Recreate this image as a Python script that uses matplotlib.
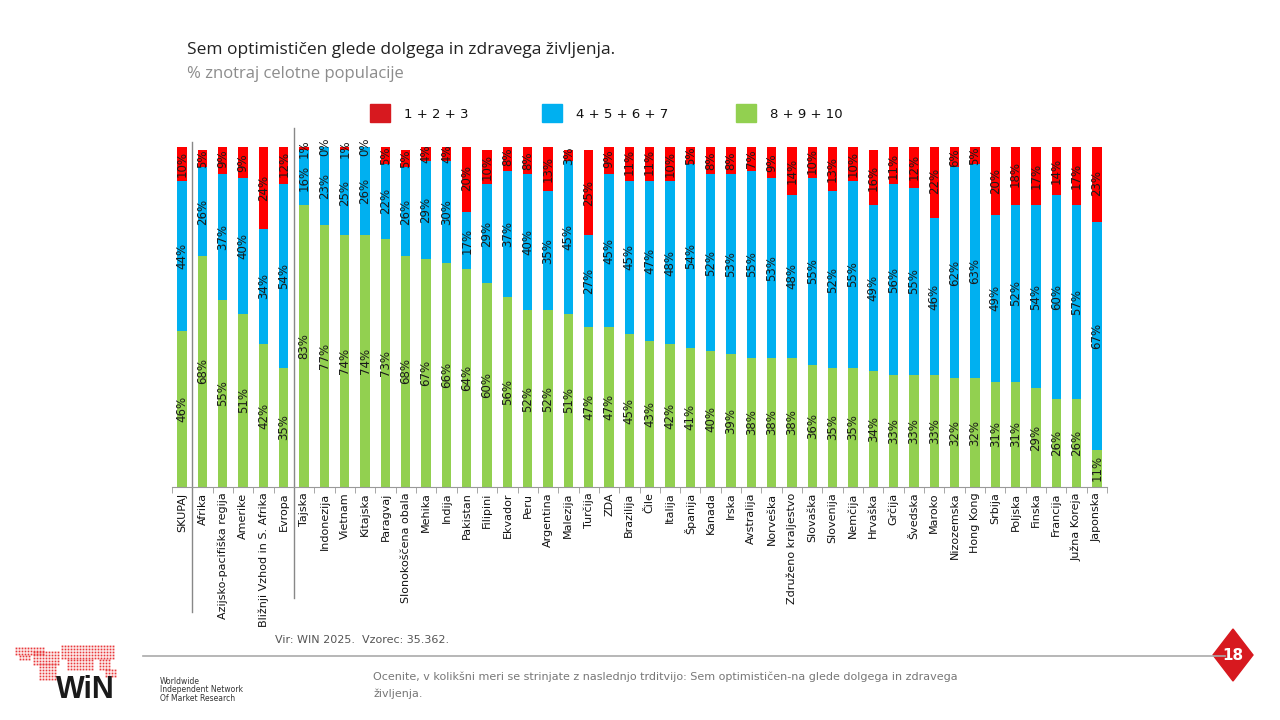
import numpy as np
import matplotlib.pyplot as plt
from matplotlib.patches import Rectangle, Polygon
from matplotlib.lines import Line2D

categories = ["SKUPAJ", "Afrika", "Azijsko-pacifiška regija", "Amerike",
              "Bližnji Vzhod in S. Afrika", "Evropa", "Tajska", "Indonezija",
              "Vietnam", "Kitajska", "Paragvaj", "Slonokoščena obala", "Mehika",
              "Indija", "Pakistan", "Filipini", "Ekvador", "Peru", "Argentina",
              "Malezija", "Turčija", "ZDA", "Brazilija", "Čile", "Italija",
              "Španija", "Kanada", "Irska", "Avstralija", "Norveška",
              "Združeno kraljestvo", "Slovaška", "Slovenija", "Nemčija",
              "Hrvaška", "Grčija", "Švedska", "Maroko", "Nizozemska",
              "Hong Kong", "Srbija", "Poljska", "Finska", "Francija",
              "Južna Koreja", "Japonska"]

high = [46, 68, 55, 51, 42, 35, 83, 77, 74, 74, 73, 68, 67, 66, 64, 60, 56, 52,
        52, 51, 47, 47, 45, 43, 42, 41, 40, 39, 38, 38, 38, 36, 35, 35, 34, 33,
        33, 33, 32, 32, 31, 31, 29, 26, 26, 11]
mid = [44, 26, 37, 40, 34, 54, 16, 23, 25, 26, 22, 26, 29, 30, 17, 29, 37, 40,
       35, 45, 27, 45, 45, 47, 48, 54, 52, 53, 55, 53, 48, 55, 52, 55, 49, 56,
       55, 46, 62, 63, 49, 52, 54, 60, 57, 67]
low = [10, 5, 9, 9, 24, 12, 1, 0, 1, 0, 5, 5, 4, 4, 20, 10, 8, 8, 13, 3, 25, 9,
       11, 11, 10, 5, 8, 8, 7, 9, 14, 10, 13, 10, 16, 11, 12, 22, 6, 5, 20, 18,
       17, 14, 17, 23]

series_names = ["1 + 2 + 3", "4 + 5 + 6 + 7", "8 + 9 + 10"]
c_red, c_blue, c_green = "#FF0000", "#00B0F0", "#92D050"

fig = plt.figure(figsize=(12.8, 7.2), dpi=100)
fig.patch.set_facecolor("white")
ax = fig.add_axes([172 / 1280, 1 - 487 / 720, 935 / 1280, 340 / 720])

x = np.arange(len(categories))
w = 0.46
hi = np.array(high)
md = np.array(mid)
lo = np.array(low)
ax.bar(x, hi, w, color=c_green)
ax.bar(x, md, w, bottom=hi, color=c_blue)
ax.bar(x, lo, w, bottom=hi + md, color=c_red)

for i in x:
    ax.text(i, hi[i] / 2, f"{hi[i]}%", rotation=90, ha="center", va="center",
            fontsize=8.5, color="#1a1a1a")
    ax.text(i, hi[i] + md[i] / 2, f"{md[i]}%", rotation=90, ha="center",
            va="center", fontsize=8.5, color="#1a1a1a")
    ax.text(i, hi[i] + md[i] + lo[i] / 2, f"{lo[i]}%", rotation=90,
            ha="center", va="center", fontsize=8.5, color="#1a1a1a")

ax.set_xlim(-0.5, len(categories) - 0.5)
ax.set_ylim(0, 100)
ax.set_yticks([])
for s in ["top", "right", "left"]:
    ax.spines[s].set_visible(False)
ax.spines["bottom"].set_color("#999999")
ax.set_xticks(x)
ax.set_xticklabels(categories, rotation=90, fontsize=8, color="#111111")
ax.tick_params(axis="x", length=0, pad=4)
ax.set_xticks(np.arange(-0.5, len(categories)), minor=True)
ax.tick_params(axis="x", which="minor", length=4, color="#999999")

# group separators
trans = ax.get_xaxis_transform()
ax.add_line(Line2D([0.5, 0.5], [1.015, -0.368], transform=trans,
                   color="#888888", lw=1, clip_on=False))
ax.add_line(Line2D([5.5, 5.5], [1.056, -0.326], transform=trans,
                   color="#888888", lw=1, clip_on=False))

# title
fig.text(187 / 1280, 1 - 50 / 720, "Sem optimističen glede dolgega in zdravega življenja.",
         fontsize=12.5, color="#222222", va="center", family="Open Sans")
fig.text(187 / 1280, 1 - 74 / 720, "% znotraj celotne populacije",
         fontsize=12, color="#8c8c8c", va="center", family="Open Sans")

# legend
leg_cols = ["#D7191F", c_blue, c_green]
leg_x = [370, 542, 736]
for lx, col, name in zip(leg_x, leg_cols, series_names):
    fig.patches.append(Rectangle((lx / 1280, 1 - 122 / 720), 20 / 1280, 18 / 720,
                                 transform=fig.transFigure, color=col))
    fig.text((lx + 34) / 1280, 1 - 114 / 720, name, fontsize=9.5,
             color="#111111", va="center")

# footer
fig.text(275 / 1280, 1 - 640 / 720, "Vir: WIN 2025.  Vzorec: 35.362.",
         fontsize=8, color="#555555", va="center")
fig.add_artist(Line2D([143 / 1280, 1225 / 1280], [1 - 656 / 720, 1 - 656 / 720],
                      transform=fig.transFigure, color="#aaaaaa", lw=1.2))
fig.text(373 / 1280, 1 - 677 / 720,
         "Ocenite, v kolikšni meri se strinjate z naslednjo trditvijo: Sem optimističen-na glede dolgega in zdravega",
         fontsize=8, color="#777777", va="center")
fig.text(373 / 1280, 1 - 694 / 720, "življenja.", fontsize=8, color="#777777",
         va="center")
cx, cy = 1233, 655
fig.patches.append(Polygon([((cx) / 1280, 1 - (cy - 26) / 720),
                            ((cx + 20) / 1280, 1 - cy / 720),
                            ((cx) / 1280, 1 - (cy + 26) / 720),
                            ((cx - 20) / 1280, 1 - cy / 720)],
                           closed=True, transform=fig.transFigure,
                           color="#D7191F"))
fig.text(cx / 1280, 1 - cy / 720, "18", fontsize=11, fontweight="bold",
         color="white", ha="center", va="center")

# logo: dotted world map
blocks = [(16, 648, 46, 656), (34, 652, 60, 666), (40, 664, 58, 680),
          (62, 646, 114, 660), (68, 660, 94, 672), (100, 660, 112, 670),
          (106, 670, 116, 678), (20, 656, 30, 662)]
dx, dy = [], []
for x0, y0, x1, y1 in blocks:
    for px in range(x0, x1, 3):
        for py in range(y0, y1, 3):
            dx.append(px / 1280)
            dy.append(1 - py / 720)
fig.add_artist(Line2D(dx, dy, transform=fig.transFigure, ls="none",
                      marker="s", ms=1.3, mew=0, color="#E8383B"))
fig.text(56 / 1280, 1 - 690 / 720, "WiN", fontsize=22, fontweight="bold",
         color="#1a1a1a", va="center", family="Liberation Sans")
fig.text(160 / 1280, 1 - 690 / 720,
         "Worldwide\nIndependent Network\nOf Market Research",
         fontsize=5.5, color="#333333", va="center", linespacing=0.95)

fig.savefig("out.png", dpi=100, facecolor="white")
